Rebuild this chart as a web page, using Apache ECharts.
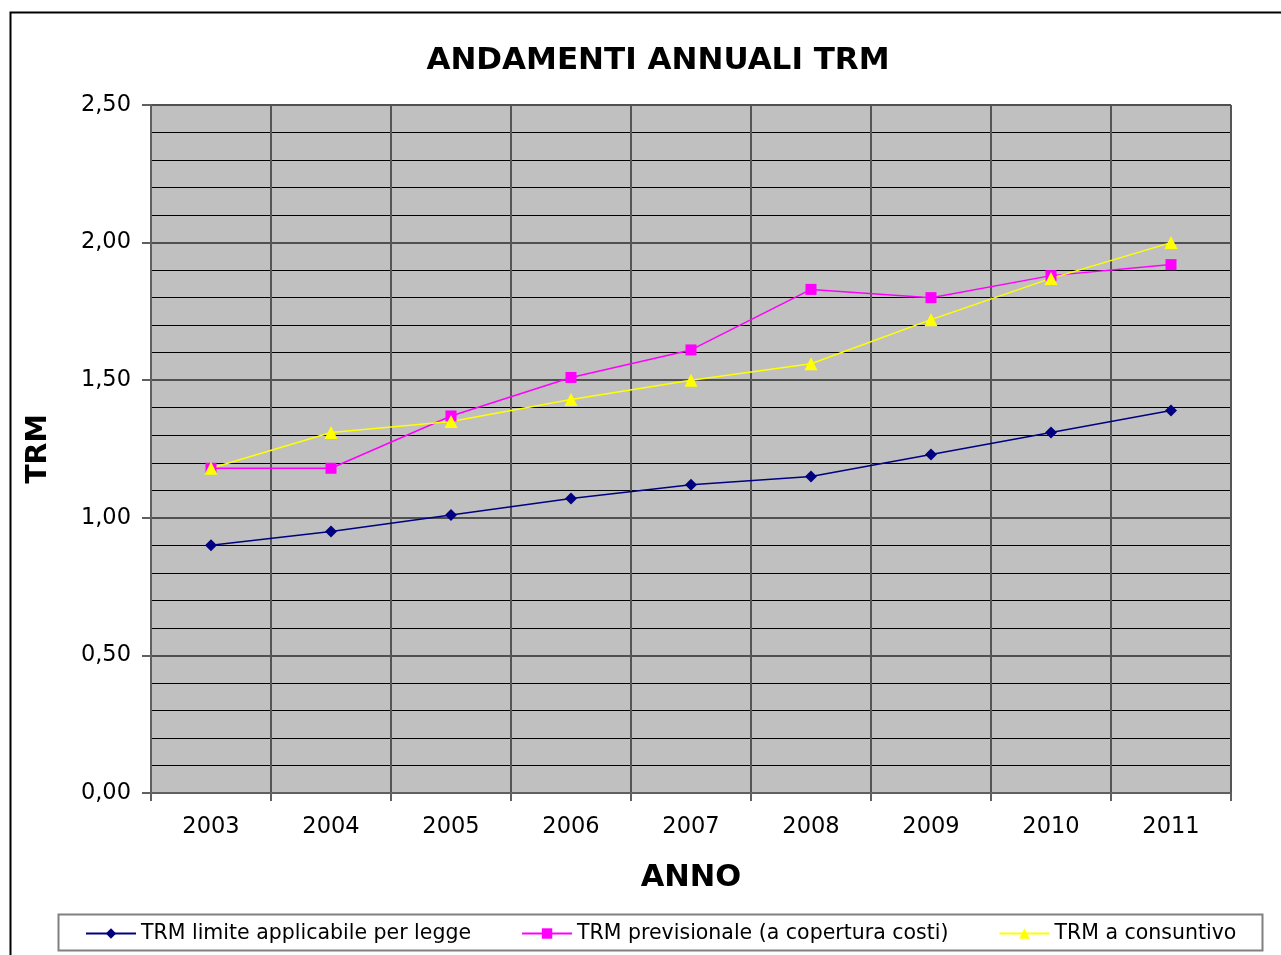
<!DOCTYPE html>
<html>
<head>
<meta charset="utf-8">
<script src="https://cdn.jsdelivr.net/npm/echarts@6/dist/echarts.min.js"></script>
<style>
html,body{margin:0;padding:0;background:#fff;}
#chart{width:1281px;height:955px;}
</style>
</head>
<body>
<div id="chart"></div>
<script>
const years = ['2003','2004','2005','2006','2007','2008','2009','2010','2011'];
const trmLimite = [0.90, 0.95, 1.01, 1.07, 1.12, 1.15, 1.23, 1.31, 1.39];
const trmPrevisionale = [1.18, 1.18, 1.37, 1.51, 1.61, 1.83, 1.80, 1.88, 1.92];
const trmConsuntivo = [1.18, 1.31, 1.35, 1.43, 1.50, 1.56, 1.72, 1.87, 2.00];
const seriesNames = ['TRM limite applicabile per legge', 'TRM previsionale (a copertura costi)', 'TRM a consuntivo'];

const chart = echarts.init(document.getElementById('chart'));
const FONT = '"DejaVu Sans", sans-serif';
chart.setOption({
  animation: false,
  textStyle: { fontFamily: FONT },
  title: {
    text: 'ANDAMENTI ANNUALI TRM',
    left: 653, top: 40, textAlign: 'center',
    textStyle: { fontSize: 31, fontWeight: 'bold', color: '#000', fontFamily: FONT }
  },
  graphic: [
    { type: 'rect', shape: { x: 10.5, y: 12.5, width: 1300, height: 1000 }, style: { fill: null, stroke: '#000', lineWidth: 2 }, z: -10 },
    { type: 'rect', shape: { x: 58.5, y: 914.5, width: 1204, height: 36 }, style: { fill: '#fff', stroke: '#808080', lineWidth: 2 }, z: -5 }
  ],
  legend: {
    left: 80, top: 918,
    itemWidth: 50, itemHeight: 13, itemGap: 50,
    textStyle: { fontSize: 20.5, color: '#000', fontFamily: FONT },
    data: seriesNames
  },
  grid: {
    left: 151, top: 105, right: 50, bottom: 162,
    show: true, backgroundColor: '#c0c0c0', borderColor: '#808080', borderWidth: 1
  },
  xAxis: {
    type: 'category', data: years, boundaryGap: true,
    name: 'ANNO', nameLocation: 'middle', nameGap: 70,
    nameTextStyle: { fontSize: 30.5, fontWeight: 'bold', color: '#000', fontFamily: FONT },
    axisLine: { lineStyle: { color: '#606060', width: 2 } },
    axisTick: { show: true, length: 8, lineStyle: { color: '#606060', width: 2 } },
    axisLabel: { fontSize: 22.5, color: '#000', margin: 23, fontFamily: FONT },
    splitLine: { show: true, lineStyle: { color: '#555', width: 2 } }
  },
  yAxis: {
    type: 'value', min: 0, max: 2.5, interval: 0.5,
    name: 'TRM', nameLocation: 'middle', nameGap: 98, nameRotate: 90,
    nameTextStyle: { fontSize: 28.5, fontWeight: 'bold', color: '#000', fontFamily: FONT },
    axisLine: { show: true, lineStyle: { color: '#606060', width: 2 } },
    axisTick: { show: true, length: 9, lineStyle: { color: '#606060', width: 2 } },
    axisLabel: { fontSize: 22.5, color: '#000', margin: 20, fontFamily: FONT,
      formatter: v => v.toFixed(2).replace('.', ',') },
    splitLine: { show: true, lineStyle: { color: '#505050', width: 2 } },
    minorTick: { show: false, splitNumber: 5 },
    minorSplitLine: { show: true, lineStyle: { color: '#000', width: 1 } }
  },
  series: [
    { name: seriesNames[0], type: 'line', data: trmLimite,
      symbol: 'diamond', symbolSize: 12,
      lineStyle: { color: '#000080', width: 1.5 }, itemStyle: { color: '#000080' } },
    { name: seriesNames[1], type: 'line', data: trmPrevisionale,
      symbol: 'rect', symbolSize: 11,
      lineStyle: { color: '#ff00ff', width: 1.5 }, itemStyle: { color: '#ff00ff' } },
    { name: seriesNames[2], type: 'line', data: trmConsuntivo,
      symbol: 'triangle', symbolSize: 13,
      lineStyle: { color: '#ffff00', width: 1.5 }, itemStyle: { color: '#ffff00' } }
  ]
});
</script>
</body>
</html>
